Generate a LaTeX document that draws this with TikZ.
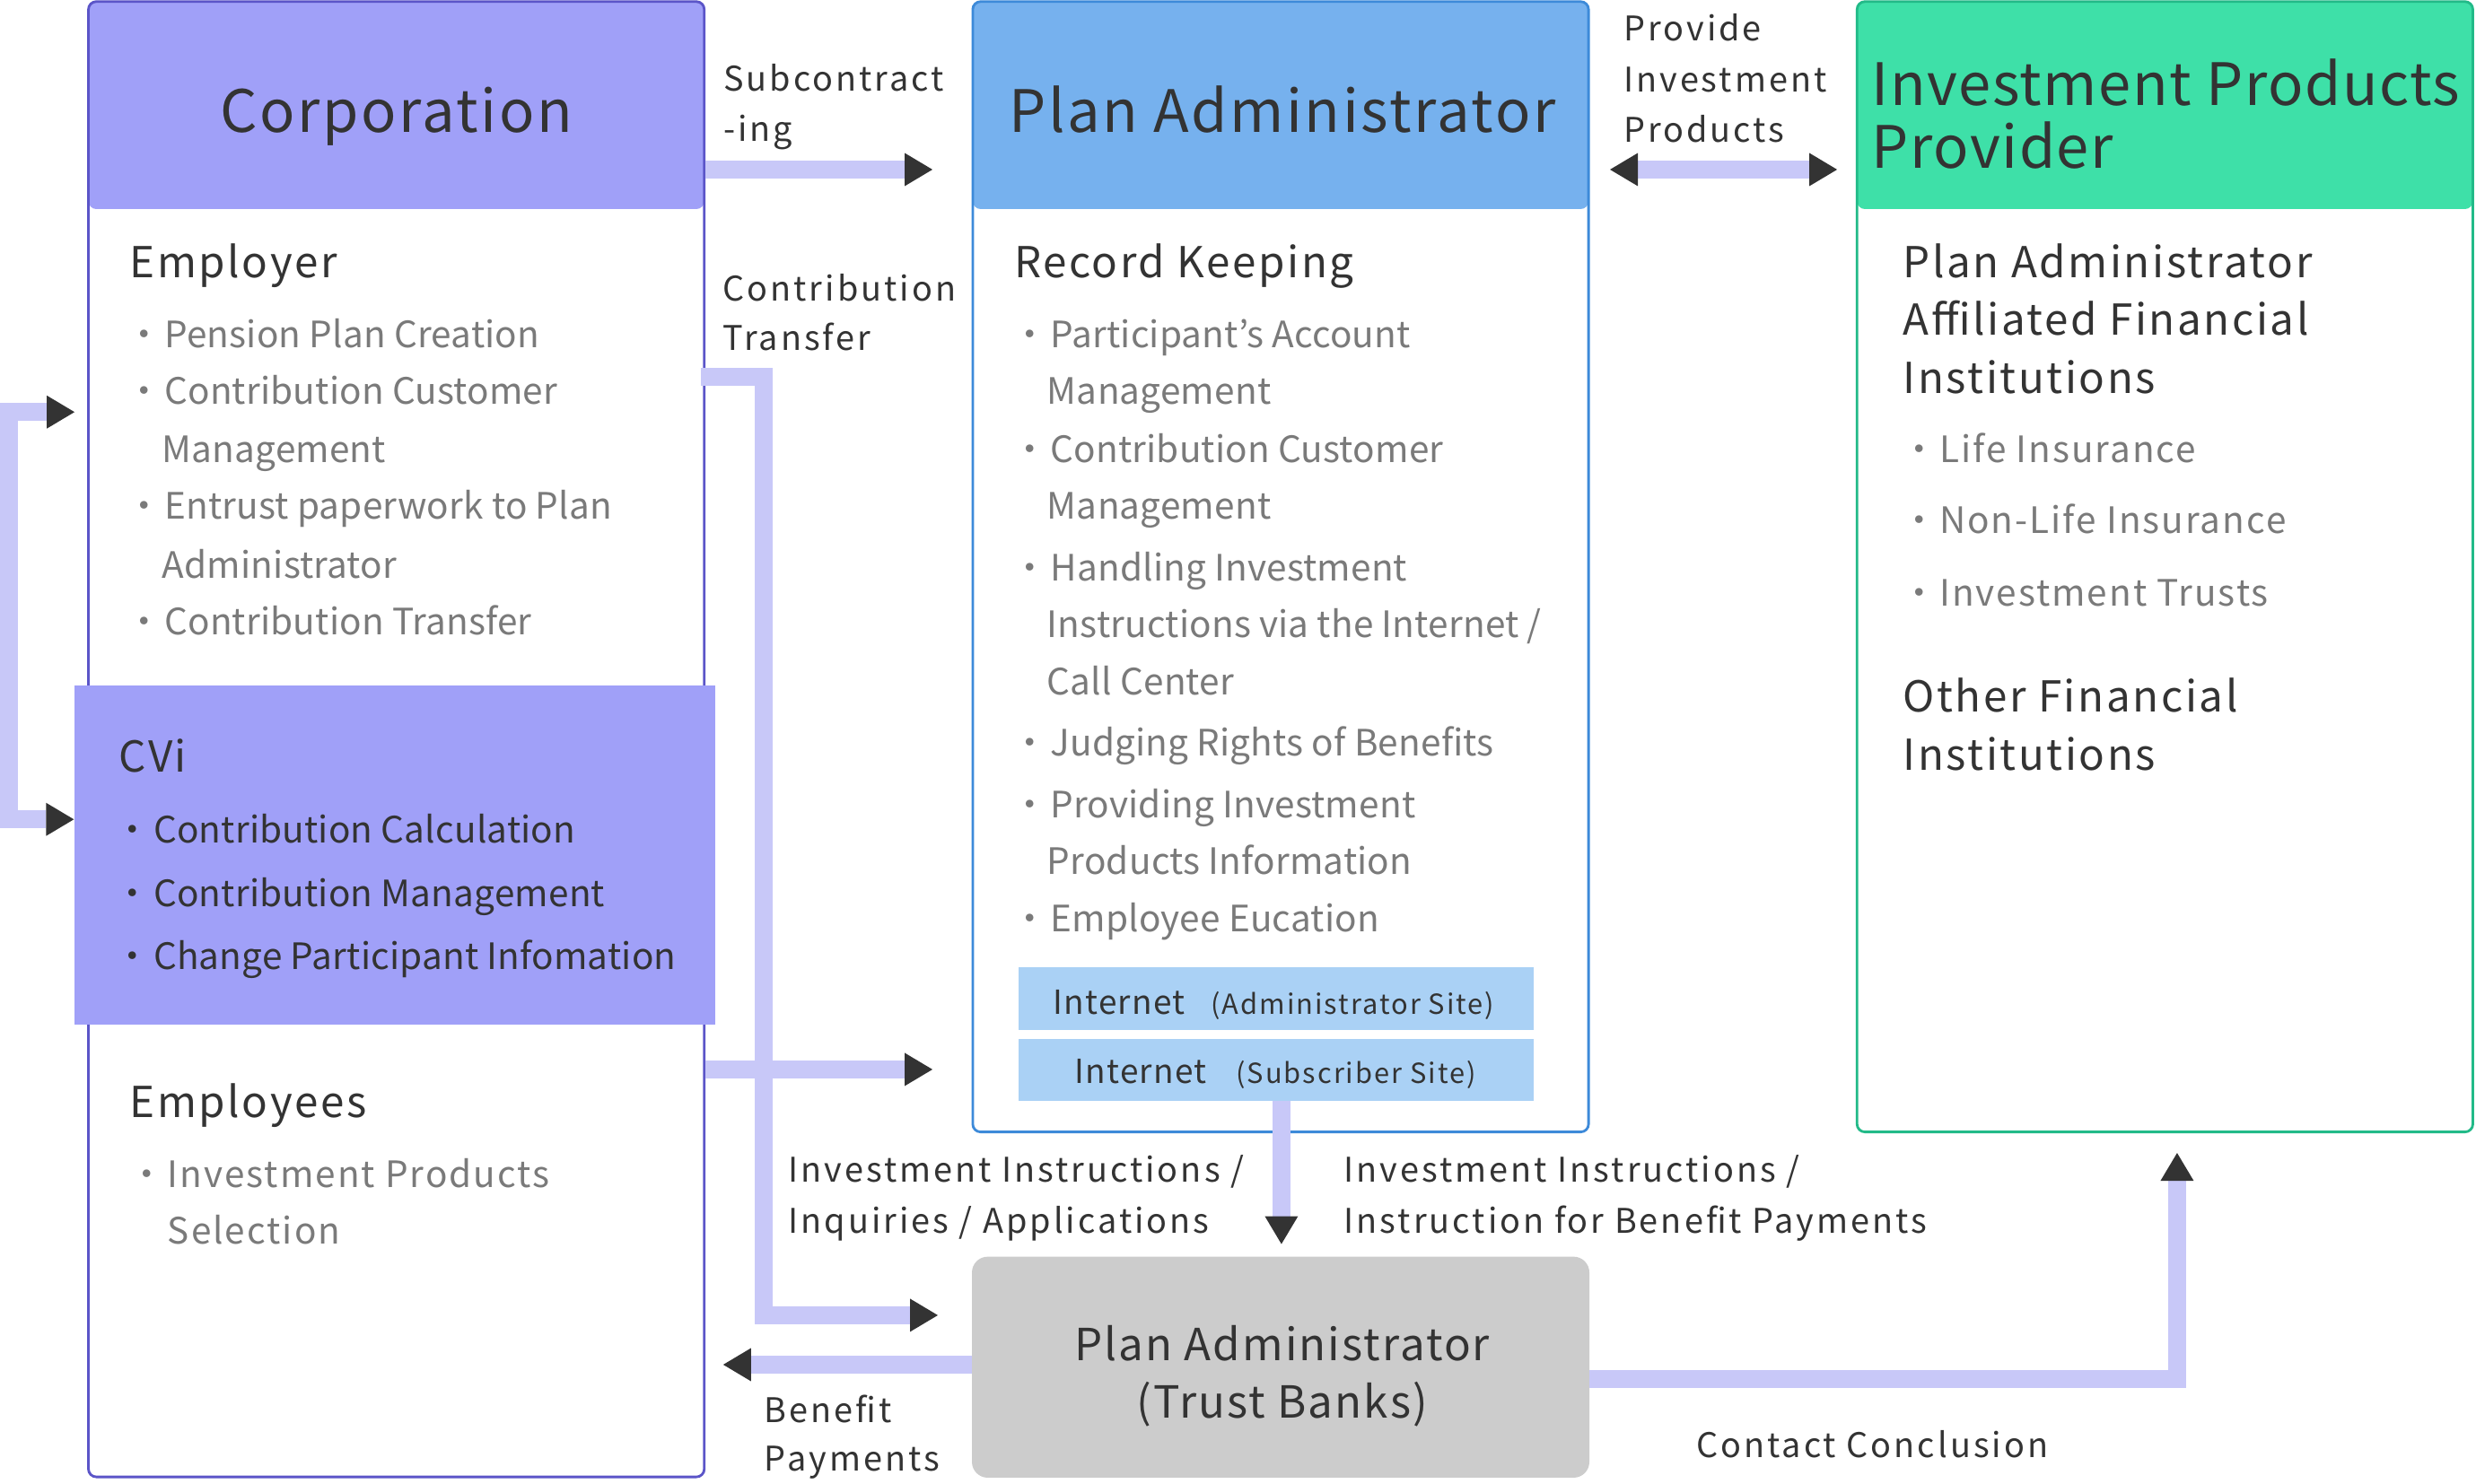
\documentclass[tikz,border=0pt]{standalone}
\usepackage{fontspec}
\setmainfont{Noto Sans CJK JP}
\usetikzlibrary{arrows.meta,calc}
\definecolor{corphead}{HTML}{A0A0F8}
\definecolor{corpline}{HTML}{5B55C8}
\definecolor{pahead}{HTML}{76B1EE}
\definecolor{paline}{HTML}{3D8AD9}
\definecolor{ipphead}{HTML}{3EE0A8}
\definecolor{ippline}{HTML}{22BA88}
\definecolor{trustfill}{HTML}{CCCCCC}
\definecolor{flow}{HTML}{C8C8F8}
\definecolor{dark}{HTML}{333333}
\definecolor{graytxt}{HTML}{7A7A7A}
\definecolor{netfill}{HTML}{AAD1F5}
\newcommand\FTitle{\fontsize{37}{44}\selectfont\addfontfeature{LetterSpace=4}}
\newcommand\FTitleB{\fontsize{37}{44}\selectfont\addfontfeature{LetterSpace=2.4}}
\newcommand\FHead{\fontsize{27}{36}\selectfont\addfontfeature{LetterSpace=5.5}}
\newcommand\FItem{\fontsize{23}{36}\selectfont\addfontfeature{LetterSpace=0.5}}
\newcommand\FItemW{\fontsize{23}{36}\selectfont\addfontfeature{LetterSpace=5}}
\newcommand\FLab{\fontsize{21.5}{32}\selectfont\addfontfeature{LetterSpace=8}}
\newcommand\FTrust{\fontsize{28}{36}\selectfont\addfontfeature{LetterSpace=4.2}}
\newcommand\FNet{\fontsize{21}{24}\selectfont\addfontfeature{LetterSpace=3.6}}
\newcommand\FNetS{\fontsize{17.5}{24}\selectfont\addfontfeature{LetterSpace=6.5}}
\newcommand\Bul{\llap{・\hspace{1.5pt}}}
\begin{document}
\begin{tikzpicture}[x=1pt,y=-1pt,
  panel/.style={draw=#1, line width=1.6pt, fill=white, rounded corners=5pt, inner sep=0pt, minimum width=390pt},
  txt/.style={anchor=base west, inner sep=0pt, text=dark},
  gtxt/.style={txt, text=graytxt},
  flowline/.style={draw=flow, line width=11.4pt, line join=miter},
  tip/.tip={Triangle[length=17.6pt, width=21pt, line width=0pt, color=dark, fill=dark]}
]
\useasboundingbox (0,0) rectangle (1568,940);

% ---------- panels ----------
\node[panel=corpline, minimum height=934.5pt,
  path picture={\fill[corphead] (path picture bounding box.north west) rectangle ($(path picture bounding box.north east)+(0,131.4)$);}]
  (corp) at (251,468.25) {};
\node[panel=paline, minimum height=716pt,
  path picture={\fill[pahead] (path picture bounding box.north west) rectangle ($(path picture bounding box.north east)+(0,131.4)$);}]
  (pa) at (811,359) {};
\node[panel=ippline, minimum height=716pt,
  path picture={\fill[ipphead] (path picture bounding box.north west) rectangle ($(path picture bounding box.north east)+(0,131.4)$);}]
  (ipp) at (1371,359) {};
\node[fill=trustfill, rounded corners=10pt, inner sep=0pt, minimum width=391pt, minimum height=140pt] (trust) at (811,866) {};
\node[fill=corphead, inner sep=0pt, minimum width=406pt, minimum height=215pt] (cvi) at (250,541.5) {};
\node[fill=netfill, inner sep=0pt, minimum width=326pt, minimum height=40pt] (net1) at (808,632.5) {};
\node[fill=netfill, inner sep=0pt, minimum width=326pt, minimum height=39.3pt] (net2) at (808,677.7) {};

% ---------- titles ----------
\node[anchor=base, inner sep=0pt, text=dark, font=\FTitle] (tCorp) at (251,84.1) {Corporation};
\node[anchor=base, inner sep=0pt, text=dark, font=\FTitle] (tPA) at (812,84.1) {Plan Administrator};
\node[txt, font=\FTitleB] (tIPP1) at (1185,66.5) {Investment Products};
\node[txt, font=\FTitleB] (tIPP2) at (1185,106.3) {Provider};

% ---------- corporation contents ----------
\node[txt, font=\FHead] (hEmp) at (82,176) {Employer};
\node[gtxt, font=\FItem] (e1) at (104,220) {\Bul Pension Plan Creation};
\node[gtxt, font=\FItem] (e2) at (104,256) {\Bul Contribution Customer};
\node[gtxt, font=\FItem] (e3) at (102.5,293) {Management};
\node[gtxt, font=\FItem] (e4) at (104,329) {\Bul Entrust paperwork to Plan};
\node[gtxt, font=\FItem] (e5) at (102.5,366) {Administrator};
\node[gtxt, font=\FItem] (e6) at (104,402) {\Bul Contribution Transfer};

\node[txt, font=\FHead] (hCVi) at (75,489) {CVi};
\node[txt, font=\FItem] (c1) at (97,534) {\Bul Contribution Calculation};
\node[txt, font=\FItem] (c2) at (97,574) {\Bul Contribution Management};
\node[txt, font=\FItem] (c3) at (97,614) {\Bul Change Participant Infomation};

\node[txt, font=\FHead] (hEmps) at (82,708) {Employees};
\node[gtxt, font=\FItemW] (m1) at (106,752) {\Bul Investment Products};
\node[gtxt, font=\FItemW] (m2) at (106,788) {Selection};

% ---------- plan administrator contents ----------
\node[txt, font=\FHead] (hRK) at (642,176) {Record Keeping};
\node[gtxt, font=\FItem] (r1) at (665,220) {\Bul Participant’s Account};
\node[gtxt, font=\FItem] (r2) at (663,256) {Management};
\node[gtxt, font=\FItem] (r3) at (665,293) {\Bul Contribution Customer};
\node[gtxt, font=\FItem] (r4) at (663,329) {Management};
\node[gtxt, font=\FItem] (r5) at (665,368) {\Bul Handling Investment};
\node[gtxt, font=\FItem] (r6) at (663,404) {Instructions via the Internet /};
\node[gtxt, font=\FItem] (r7) at (663,440) {Call Center};
\node[gtxt, font=\FItem] (r8) at (665,479) {\Bul Judging Rights of Benefits};
\node[gtxt, font=\FItem] (r9) at (665,518) {\Bul Providing Investment};
\node[gtxt, font=\FItem] (r10) at (663,554) {Products Information};
\node[gtxt, font=\FItem] (r11) at (665,590) {\Bul Employee Eucation};

\node[txt, font=\FNet] (n1a) at (666.6,642.2) {Internet};
\node[txt, font=\FNetS] (n1b) at (766.7,642.2) {(Administrator Site)};
\node[txt, font=\FNet] (n2a) at (680.3,686.5) {Internet};
\node[txt, font=\FNetS] (n2b) at (782.6,686.5) {(Subscriber Site)};

% ---------- provider contents ----------
\node[txt, font=\FHead] (p1) at (1205,176) {Plan Administrator};
\node[txt, font=\FHead] (p2) at (1205,212) {Affiliated Financial};
\node[txt, font=\FHead] (p3) at (1205,249) {Institutions};
\node[gtxt, font=\FItemW] (p4) at (1228,293) {\Bul Life Insurance};
\node[gtxt, font=\FItemW] (p5) at (1228,338) {\Bul Non-Life Insurance};
\node[gtxt, font=\FItemW] (p6) at (1228,384) {\Bul Investment Trusts};
\node[txt, font=\FHead] (p7) at (1205,451) {Other Financial};
\node[txt, font=\FHead] (p8) at (1205,488) {Institutions};

% ---------- trust bank ----------
\node[anchor=base, inner sep=0pt, text=dark, font=\FTrust] (tb1) at (812,862) {Plan Administrator};
\node[anchor=base, inner sep=0pt, text=dark, font=\FTrust] (tb2) at (812,898.5) {(Trust Banks)};

% ---------- connectors ----------
\coordinate (subTip) at (590.5,107.4);
\draw[flowline, -tip] (corp.east |- subTip) -- (subTip);

\coordinate (pvL) at (1019.6,107.4);
\coordinate (pvR) at (1163.4,107.4);
\draw[flowline, tip-tip] (pvL) -- (pvR);

\coordinate (ctA) at (444,238.7);
\coordinate (ctB) at (483.6,833.1);
\coordinate (ctTip) at (593.9,833.1);
\draw[flowline, -tip] (ctA) -| (ctB) -- (ctTip);

\coordinate (emTip) at (590.5,677.4);
\draw[flowline, -tip] (corp.east |- emTip) -- (emTip);

\coordinate (lpTop) at (47.2,261);
\coordinate (lpCorner) at (5.7,519);
\draw[flowline, tip-tip] (lpTop) -| (lpCorner) -- (cvi.west |- lpCorner);

\coordinate (bfTip) at (458,864.4);
\draw[flowline, -tip] (trust.west |- bfTip) -- (bfTip);

\coordinate (inTip) at (811.5,788);
\draw[flowline, -tip] (net2.south -| inTip) -- (inTip);

\coordinate (ccA) at (1006,873.5);
\coordinate (ccTip) at (1378.7,730.3);
\draw[flowline, -tip] (trust.east |- ccA) -| (ccTip);

% ---------- connector labels ----------
\node[txt, font=\FLab] (lSub1) at (458,57.8) {Subcontract};
\node[txt, font=\FLab] (lSub2) at (458,89.4) {-ing};
\node[txt, font=\FLab] (lCt1) at (457.5,190.4) {Contribution};
\node[txt, font=\FLab] (lCt2) at (457.5,222) {Transfer};
\node[txt, font=\FLab] (lPv1) at (1028,26) {Provide};
\node[txt, font=\FLab] (lPv2) at (1028,58) {Investment};
\node[txt, font=\FLab] (lPv3) at (1028,90) {Products};
\node[txt, font=\FLab] (lIi1) at (499,749) {Investment Instructions /};
\node[txt, font=\FLab] (lIi2) at (499,781) {Inquiries / Applications};
\node[txt, font=\FLab] (lIb1) at (851,749) {Investment Instructions /};
\node[txt, font=\FLab] (lIb2) at (851,781) {Instruction for Benefit Payments};
\node[txt, font=\FLab] (lBf1) at (484,900.8) {Benefit};
\node[txt, font=\FLab] (lBf2) at (484,932) {Payments};
\node[txt, font=\FLab] (lCc) at (1074,923) {Contact Conclusion};
\end{tikzpicture}
\end{document}
